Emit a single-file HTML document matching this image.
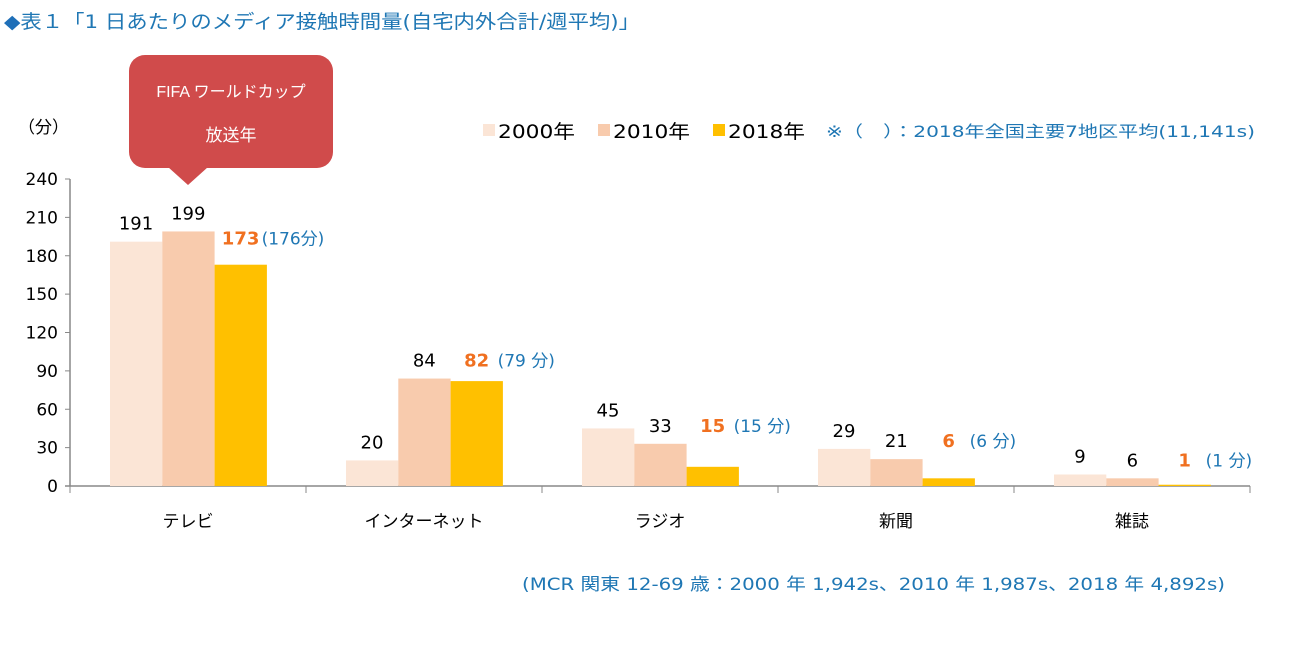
<!DOCTYPE html>
<html><head><meta charset="utf-8"><style>
body{margin:0;background:#fff;}
svg text{font-family:"DejaVu Sans","Liberation Sans","Noto Sans CJK JP",sans-serif;}
</style></head><body>
<svg width="1310" height="650" viewBox="0 0 1310 650" xmlns="http://www.w3.org/2000/svg">
<text x="4" y="28" font-size="19" fill="#1f77b4" textLength="636" lengthAdjust="spacingAndGlyphs"><tspan fill="#1f6fb8">◆</tspan>表１「1 日あたりのメディア接触時間量(自宅内外合計/週平均)」</text>
<g>
<rect x="129" y="55" width="204" height="113" rx="16" fill="#d04b4b"/>
<polygon points="168,167 208,167 188,185" fill="#d04b4b"/>
<text x="231" y="97" font-size="16" fill="#fff" text-anchor="middle" style="font-family:'Liberation Sans','Noto Sans CJK JP',sans-serif">FIFA ワールドカップ</text>
<text x="231" y="141" font-size="17" fill="#fff" text-anchor="middle">放送年</text>
</g>
<text x="18" y="133" font-size="17" fill="#000">（分）</text>
<g>
<rect x="483" y="124" width="12" height="12" fill="#fbe5d6"/>
<text x="498" y="138" font-size="19" textLength="77" lengthAdjust="spacingAndGlyphs">2000年</text>
<rect x="598" y="124" width="12" height="12" fill="#f8cbad"/>
<text x="613" y="138" font-size="19" textLength="77" lengthAdjust="spacingAndGlyphs">2010年</text>
<rect x="713" y="124" width="12" height="12" fill="#ffc000"/>
<text x="728" y="138" font-size="19" textLength="77" lengthAdjust="spacingAndGlyphs">2018年</text>
<text x="826" y="137" font-size="16" fill="#1f77b4" textLength="429" lengthAdjust="spacingAndGlyphs">※（　）：2018年全国主要7地区平均(11,141s)</text>
</g>
<g id="chart"></g>
<text x="522" y="590" font-size="17" fill="#1f77b4" textLength="703" lengthAdjust="spacingAndGlyphs">(MCR 関東 12-69 歳：2000 年 1,942s、2010 年 1,987s、2018 年 4,892s)</text>
</svg>
<script>
const categories=["テレビ","インターネット","ラジオ","新聞","雑誌"];
const s2000=[191,20,45,29,9];
const s2010=[199,84,33,21,6];
const s2018=[173,82,15,6,1];
const national=["(176分)","(79 分)","(15 分)","(6 分)","(1 分)"];
const yTicks=[0,30,60,90,120,150,180,210,240];
const NS="http://www.w3.org/2000/svg";
const g=document.getElementById("chart");
const x0=70,cw=236,y0=486,yTop=179,ymax=240;
const y=v=>y0-(v/ymax)*(y0-yTop);
function mk(t,a,txt){const e=document.createElementNS(NS,t);for(const k in a)e.setAttribute(k,a[k]);if(txt!==undefined)e.textContent=txt;g.appendChild(e);return e;}
let ax=mk("line",{x1:x0,y1:yTop,x2:x0,y2:y0,stroke:"#888","stroke-width":1.5});


let xa=mk("line",{x1:x0-5,y1:y0,x2:x0+cw*categories.length,y2:y0,stroke:"#888","stroke-width":1.5});


yTicks.forEach(t=>{
 const l=mk("line",{x1:x0-5,y1:y(t),x2:x0,y2:y(t),stroke:"#888"});
 
 
 const tx=mk("text",{x:x0-12,y:y(t)+6,"font-size":17,"text-anchor":"end"},t);
 
 
});
for(let i=0;i<=categories.length;i++){
 const l=mk("line",{x1:x0+cw*i,y1:y0,x2:x0+cw*i,y2:y0+7,stroke:"#888"});
 
 
}
const cols=["#fbe5d6","#f8cbad","#ffc000"];
const years=[2000,2010,2018];
const series=[s2000,s2010,s2018];
categories.forEach((c,i)=>{
 const gx=x0+cw*i+40;
 series.forEach((s,j)=>{
  const bx=gx+j*52.3;
  const r=mk("rect",{x:bx,y:y(s[i]),width:52.3,height:y0-y(s[i]),fill:cols[j]});
  
  
  if(j<2){
   const t=mk("text",{x:bx+26,y:y(s[i])-12,"font-size":18,"text-anchor":"middle"},s[i]);
   
   
  }else{
   const ly=(i===0?y(s2010[i])+13:y(Math.max(s2010[i],s[i]))-12);
   const t=mk("text",{x:bx+26,y:ly,"font-size":18,"text-anchor":"middle","font-weight":"bold",fill:"#f07020"},s[i]);
   
   
   const n=mk("text",{x:bx+47,y:ly,"font-size":17,fill:"#1f77b4"},national[i]);
   
   
  }
 });
 const cl=mk("text",{x:x0+cw*i+cw/2,y:527,"font-size":17,"text-anchor":"middle"},c);
 
 
});
</script>
</body></html>
